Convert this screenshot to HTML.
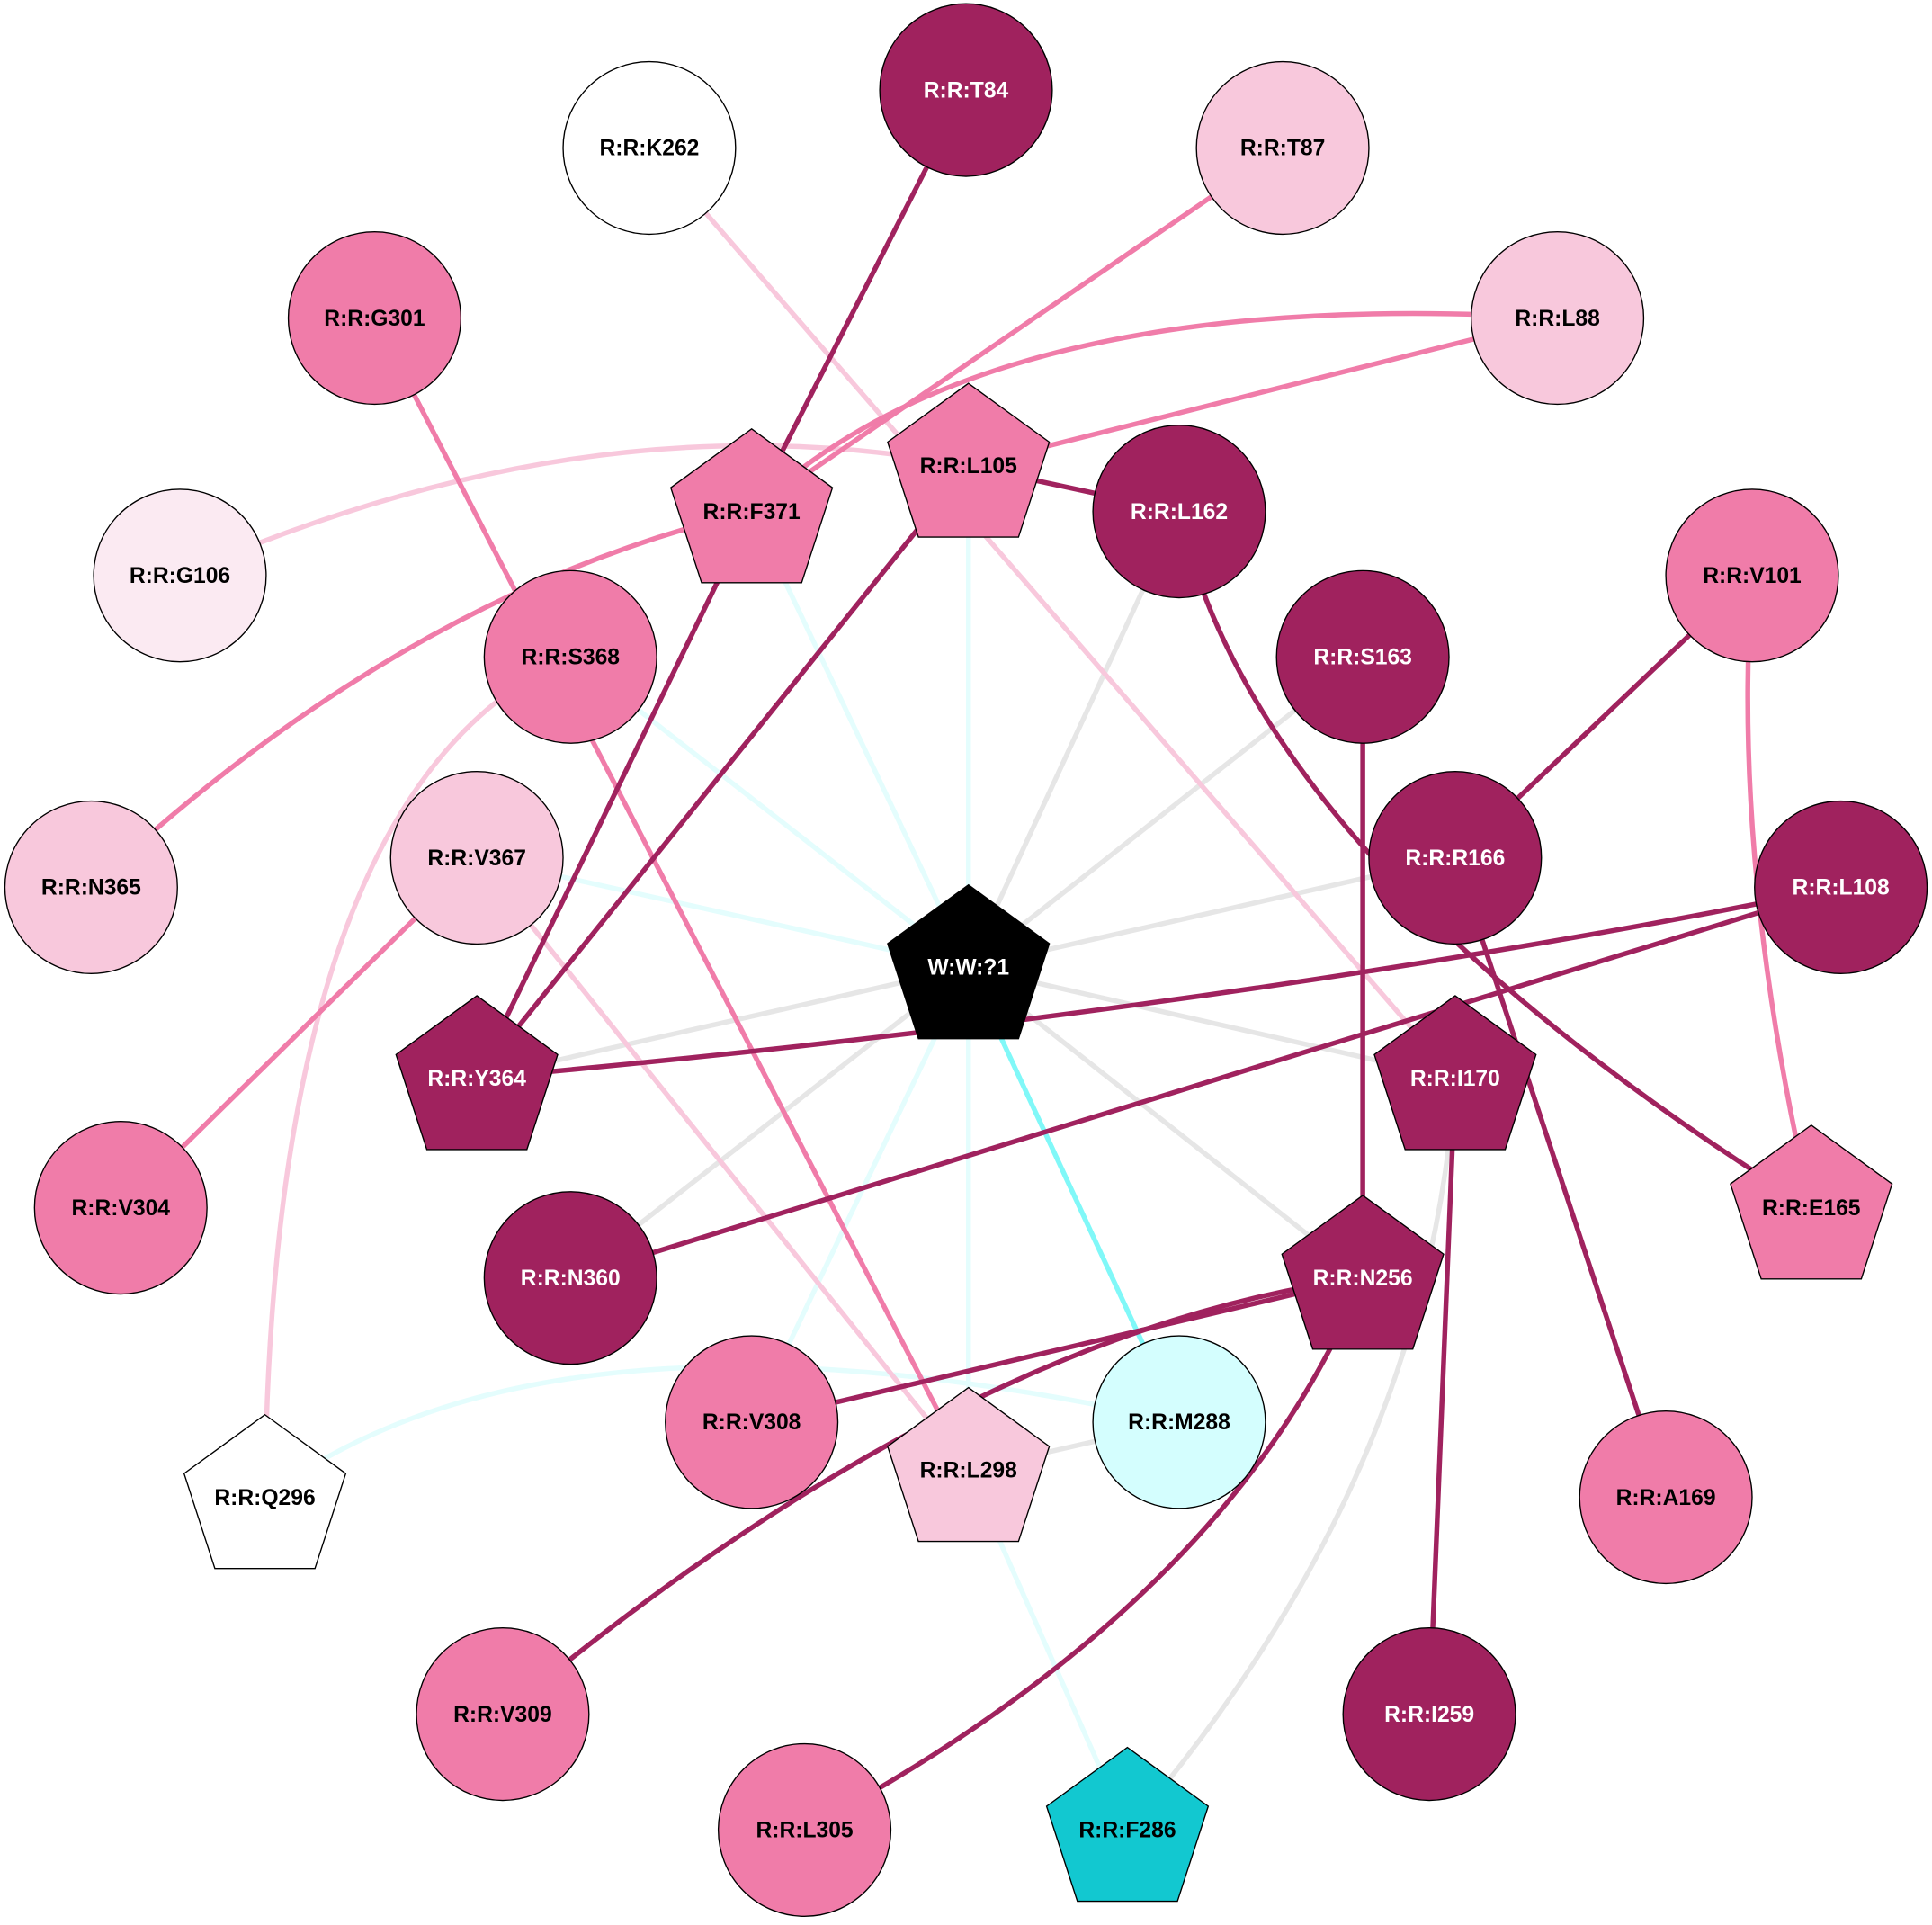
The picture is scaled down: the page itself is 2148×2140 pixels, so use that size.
<!DOCTYPE html>
<html><head><meta charset="utf-8"><style>html,body{margin:0;padding:0;background:#fff}svg{display:block}</style></head>
<body>
<svg width="2148" height="2140" viewBox="0 0 1568 1562" xmlns="http://www.w3.org/2000/svg" font-family="Liberation Sans, Arial, sans-serif" font-weight="bold" font-size="18" text-anchor="middle">
<g fill="none" stroke-width="4">
<g stroke="#e6e6e6">
<line x1="786" y1="785" x2="957" y2="415"/>
<line x1="786" y1="785" x2="1106" y2="533"/>
<line x1="786" y1="785" x2="1181" y2="696"/>
<line x1="786" y1="785" x2="1181" y2="875"/>
<line x1="786" y1="785" x2="1106" y2="1037"/>
<line x1="786" y1="785" x2="463" y2="1037"/>
<line x1="786" y1="785" x2="387" y2="875"/>
<line x1="786" y1="1193" x2="957" y2="1154"/>
<path d="M1181 875 Q1160 1200 915 1485"/>
</g>
<g stroke="#e4fdfd">
<line x1="786" y1="785" x2="610" y2="415"/>
<line x1="786" y1="785" x2="463" y2="533"/>
<line x1="786" y1="785" x2="387" y2="696"/>
<line x1="786" y1="785" x2="786" y2="378"/>
<line x1="786" y1="785" x2="610" y2="1154"/>
<line x1="786" y1="785" x2="786" y2="1193"/>
<line x1="786" y1="1193" x2="915" y2="1485"/>
<path d="M215 1215 Q450 1040 957 1154"/>
</g>
<line x1="786" y1="785" x2="957" y2="1154" stroke="#80f8f8"/>
<g stroke="#f8c8dc">
<line x1="527" y1="120" x2="1181" y2="875"/>
<path d="M146 467 Q480 320 786 378"/>
<path d="M463 533 Q220 640 215 1215"/>
<line x1="387" y1="696" x2="786" y2="1193"/>
</g>
<g stroke="#f07ca9">
<line x1="1041" y1="120" x2="610" y2="415"/>
<path d="M1264 258 Q800 230 610 415"/>
<line x1="1264" y1="258" x2="786" y2="378"/>
<path d="M610 415 Q330 480 74 720"/>
<line x1="304" y1="258" x2="786" y2="1193"/>
<line x1="387" y1="696" x2="98" y2="980"/>
<path d="M1422 467 Q1405 700 1470 980"/>
</g>
<g stroke="#a0225e">
<line x1="784" y1="73" x2="610" y2="415"/>
<line x1="786" y1="378" x2="957" y2="415"/>
<line x1="786" y1="378" x2="387" y2="875"/>
<line x1="610" y1="415" x2="387" y2="875"/>
<path d="M957 415 Q1020 700 1470 980"/>
<line x1="1422" y1="467" x2="1181" y2="696"/>
<line x1="1106" y1="533" x2="1106" y2="1037"/>
<line x1="1181" y1="696" x2="1352" y2="1215"/>
<path d="M1494 720 Q1000 820 387 875"/>
<line x1="1494" y1="720" x2="463" y2="1037"/>
<line x1="1181" y1="875" x2="1160" y2="1391"/>
<line x1="1106" y1="1037" x2="610" y2="1154"/>
<path d="M1106 1037 Q780 1080 408 1391"/>
<path d="M1106 1037 Q1000 1300 653 1485"/>
</g>
</g>
<defs><polygon id="pg" points="0,-69 65.6,-21.3 40.6,55.8 -40.6,55.8 -65.6,-21.3"/></defs>
<g stroke="#000" stroke-width="1">
<circle cx="784" cy="73" r="70" fill="#a0225e"/>
<circle cx="527" cy="120" r="70" fill="#fff"/>
<circle cx="1041" cy="120" r="70" fill="#f8c8dc"/>
<circle cx="304" cy="258" r="70" fill="#f07ca9"/>
<circle cx="1264" cy="258" r="70" fill="#f8c8dc"/>
<circle cx="957" cy="415" r="70" fill="#a0225e"/>
<circle cx="146" cy="467" r="70" fill="#fbeaf2"/>
<circle cx="1422" cy="467" r="70" fill="#f07ca9"/>
<circle cx="463" cy="533" r="70" fill="#f07ca9"/>
<circle cx="1106" cy="533" r="70" fill="#a0225e"/>
<circle cx="387" cy="696" r="70" fill="#f8c8dc"/>
<circle cx="1181" cy="696" r="70" fill="#a0225e"/>
<circle cx="74" cy="720" r="70" fill="#f8c8dc"/>
<circle cx="1494" cy="720" r="70" fill="#a0225e"/>
<circle cx="98" cy="980" r="70" fill="#f07ca9"/>
<circle cx="463" cy="1037" r="70" fill="#a0225e"/>
<circle cx="610" cy="1154" r="70" fill="#f07ca9"/>
<circle cx="957" cy="1154" r="70" fill="#d4fefe"/>
<circle cx="1352" cy="1215" r="70" fill="#f07ca9"/>
<circle cx="408" cy="1391" r="70" fill="#f07ca9"/>
<circle cx="1160" cy="1391" r="70" fill="#a0225e"/>
<circle cx="653" cy="1485" r="70" fill="#f07ca9"/>
<use href="#pg" x="786" y="380" fill="#f07ca9"/>
<use href="#pg" x="610" y="417" fill="#f07ca9"/>
<use href="#pg" x="786" y="787" fill="#000"/>
<use href="#pg" x="387" y="877" fill="#a0225e"/>
<use href="#pg" x="1181" y="877" fill="#a0225e"/>
<use href="#pg" x="1470" y="982" fill="#f07ca9"/>
<use href="#pg" x="1106" y="1039" fill="#a0225e"/>
<use href="#pg" x="215" y="1217" fill="#fff"/>
<use href="#pg" x="786" y="1195" fill="#f8c8dc"/>
<use href="#pg" x="915" y="1487" fill="#12c8d0"/>
</g>
<g fill="#000">
<text x="527" y="126">R:R:K262</text>
<text x="1041" y="126">R:R:T87</text>
<text x="304" y="264">R:R:G301</text>
<text x="1264" y="264">R:R:L88</text>
<text x="146" y="473">R:R:G106</text>
<text x="1422" y="473">R:R:V101</text>
<text x="463" y="539">R:R:S368</text>
<text x="387" y="702">R:R:V367</text>
<text x="74" y="726">R:R:N365</text>
<text x="98" y="986">R:R:V304</text>
<text x="610" y="1160">R:R:V308</text>
<text x="957" y="1160">R:R:M288</text>
<text x="1352" y="1221">R:R:A169</text>
<text x="408" y="1397">R:R:V309</text>
<text x="653" y="1491">R:R:L305</text>
<text x="786" y="384">R:R:L105</text>
<text x="610" y="421">R:R:F371</text>
<text x="1470" y="986">R:R:E165</text>
<text x="215" y="1221">R:R:Q296</text>
<text x="786" y="1199">R:R:L298</text>
<text x="915" y="1491">R:R:F286</text>
</g>
<g fill="#fff">
<text x="784" y="79">R:R:T84</text>
<text x="957" y="421">R:R:L162</text>
<text x="1106" y="539">R:R:S163</text>
<text x="1181" y="702">R:R:R166</text>
<text x="1494" y="726">R:R:L108</text>
<text x="463" y="1043">R:R:N360</text>
<text x="1160" y="1397">R:R:I259</text>
<text x="786" y="791">W:W:?1</text>
<text x="387" y="881">R:R:Y364</text>
<text x="1181" y="881">R:R:I170</text>
<text x="1106" y="1043">R:R:N256</text>
</g>
</svg>
</body></html>
